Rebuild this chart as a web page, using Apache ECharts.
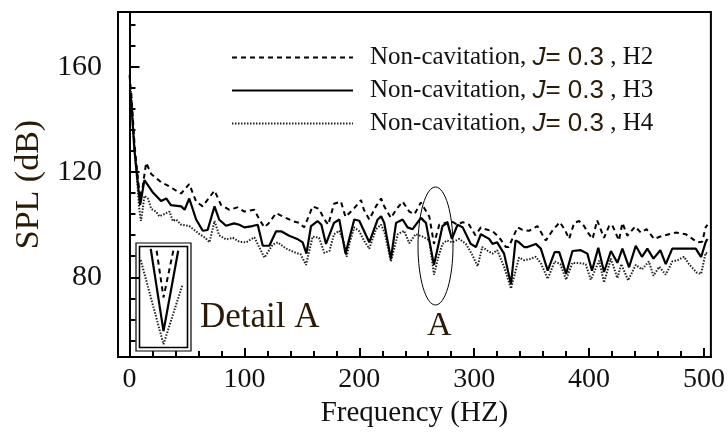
<!DOCTYPE html>
<html>
<head>
<meta charset="utf-8">
<script src="https://cdn.jsdelivr.net/npm/echarts@6/dist/echarts.min.js"></script>
<style>
html,body{margin:0;padding:0;background:#fff;}
#c{width:728px;height:433px;}
</style>
</head>
<body>
<div id="c"></div>
<script>
// ---- data ----
const h2Freq = [0,1.5,3,4.5,6,8,10,14.5,18.9,27.5,33,40.6,45,52,58,63.7,74,79.7,87,94,100,108.7,113,117.4,121,127.6,136,142,147.8,152,156.5,159.4,165,169.6,173,178,184,188,195.6,201.5,204,208.7,214.5,219,221.7,227.5,232,237.7,243.5,248,253.6,261,265,269.6,279.7,285.5,290,295.6,301,305.8,310,316,321.7,327.6,330,337.7,342,347.8,355,362.3,368,374.5,379,382.6,387,391.3,395.6,399,403,407,413,417.4,420,426,429,433.3,440,445,450,456.5,462,469.6,475.4,484,490,494,498.5,501.4,503];
const h2Spl  = [157,150,140,130,123,115,110,123.6,119.3,116.2,115,113,111.9,115.5,108.8,107,113,107.5,105.7,106.6,105,105.7,102,99,100.5,104.4,102.6,101.4,100.7,99,103.8,107,106,102,100,108,108.8,103,106.3,109.4,105.7,102,107,110,107,102.6,105.7,108.8,105,104,108.5,103,92.7,100,101.4,100,101,100,96,99,98.3,97.5,95.2,91.5,91.5,99,98,97.7,99.5,94,97.7,101,98,94.6,100.7,101.4,99.5,97,94.6,101.7,95,99.5,100,94,100.7,95.8,99.3,97,98.3,94.6,95.5,96.4,97,96.4,94.6,93.3,93.5,99,100];

const h3Freq = [1,2,3,4.3,5.8,7.2,9.3,13,20,27.5,32,36,45,48,52,58,63.8,68,74,78,84,91,95.6,100,107,111.6,116,121.7,127.6,132,139,146,150.7,154,158,163.7,167,171,178,182.6,188,195.6,200,208.7,216,219,221.7,227.5,232,237.7,242,246.4,248,253.6,258,265,272.4,276.8,280.6,285.5,290,297,301.5,305.8,313,316,320,326,332,336,339,343.5,346.4,353.6,358,364,370,374,380,385.5,392.8,398.5,402.5,408,413,419,424.6,429,434.8,440.6,446,450.7,456,462,466.7,472.4,492.8,497.5,501.4,503];
const h3Spl  = [149,144,137,128.5,122,116,107.5,117,112.5,109,110,107.5,107,105.7,110,102,97.7,98,107,102,99.6,100.5,100,99,99.5,100,92,92,97.5,97.5,95.8,94.6,93.3,89,99.5,101.4,100,92.7,100.7,102,89,102,101.5,93.3,102,103.2,100.7,87,100.7,102,99,98.3,97.7,102.6,100.7,84.7,99.5,100.7,94.6,100,99,92.7,91.5,96.4,94.6,92.7,93.3,89,77.3,94,93.3,91.5,91.5,92.7,90.9,82.5,89.6,89.6,81.3,90,90.3,89,82.5,91.2,82,90,85.5,90.9,83.8,92,87.8,90.9,87.1,90.3,85,90.9,90.9,87.7,93.3,94.6];

const h4Freq = [1,2,3,4.3,5.8,7.2,8.5,10,11.5,13,16,19,23,26,30,34.8,37.7,40.6,45,52,53.6,61,66,69.6,74,78,84,90,95.6,101.5,108.7,117.4,124.6,129,136,143,149,153.6,159.4,165,169.6,174,178,182.6,186,189,191.3,195.6,200,204,208.7,214.5,219,222,227.5,233.5,239,243.5,249,255,261,265,269,272.4,276,281,287,292.8,298.5,303,307,312,316,320,326,332,339,343.5,349,353.6,358,364,370,375,380,385.5,394,397,401.5,408.7,413,418.9,424.6,428,434,440.6,446,452,456,461,466.7,472.4,477,482.6,487,493.5,497.5,501.4,503];
const h4Spl  = [152,146,138,129,121,114,106,101.5,106,111,110,106,105,103.2,104,105,101.4,102,100,99.5,99,96.4,95,93.3,101.4,96,94.4,95,93.5,93.3,95.2,87.5,92.4,93.3,91,89.6,88.7,84.7,95.5,95,89.3,90,96.4,97.7,94,87.8,92.7,99,97.5,94,90.9,98.3,100,97,86,96.4,97.7,93,96.4,95.5,94,81,88,92.7,94,93.3,94.6,92.7,88.4,84.2,91.5,90,89,90.3,84,75.7,87.5,86.5,87,87.8,85.3,79.4,86,85,79.1,85.5,85.3,85,79.1,86.3,78,87.1,79.7,85,78.8,84.7,83,86,80.6,84,81,86,86.5,87.8,85,81.8,81.3,89.3,89];

// Detail A inset (magnified dip), normalised units
const detailSolidX  = [-0.52, 0, 0.6];
const detailSolidY  = [1.02, 0.14, 1.0];
const detailDashX   = [-0.28, 0, 0.4];
const detailDashY   = [1.0, 0.5, 1.0];
const detailDotX    = [-0.93, 0, 0.78];
const detailDotY    = [0.9, 0.0, 0.64];

// ticks
const xMajorTicks = [0,100,200,300,400,500];
const xMinorTicks = [20,40,60,80,120,140,160,180,220,240,260,280,320,340,360,380,420,440,460,480];
const yMajorTicks = [80,120,160];
const yMinorTicks = [56,64,72,88,96,104,112,128,136,144,152,168,176];

const seriesNames = ['H2','H3','H4'];

function pairs(xs, ys){ return xs.map((x,i)=>[x, ys[i]]); }

const serif = "'Liberation Serif','Times New Roman',serif";
const sans = "'Liberation Sans',Arial,sans-serif";
const ink = '#111';
const brown = '#2a1a08';

const chart = echarts.init(document.getElementById('c'), null, {renderer:'canvas'});

const option = {
  backgroundColor: '#fff',
  animation: false,
  grid: [
    {left:118, right:16, top:12, bottom:71, show:true, borderColor:'#000', borderWidth:2, backgroundColor:'transparent'},
    {left:139, top:247, width:49, height:100, show:false}
  ],
  legend: {
    data: seriesNames,
    orient: 'vertical',
    left: 226,
    top: 39,
    itemWidth: 121,
    itemHeight: 14,
    itemGap: 6,
    itemStyle: {opacity: 0, borderWidth: 0},
    formatter: function(name){ return '{a|Non-cavitation, }{j|J}{s|= 0.3}{a| , ' + name + '}'; },
    textStyle: {
      color: ink, fontFamily: serif, fontSize: 25, lineHeight: 27, padding:[0,0,0,12],
      rich: {
        a: {color: ink, fontFamily: serif, fontSize: 25, lineHeight: 27},
        j: {color: brown, fontFamily: sans, fontStyle: 'italic', fontSize: 26, lineHeight: 27},
        s: {color: brown, fontFamily: sans, fontSize: 26, lineHeight: 27}
      }
    }
  },
  xAxis: [
    {
      type:'value', gridIndex:0, min:-10, max:506,
      name:'Frequency (HZ)', nameLocation:'middle', nameGap:33,
      nameTextStyle:{fontFamily:serif, fontSize:29, color:ink},
      axisLine:{show:true, lineStyle:{color:'#000', width:2}},
      axisTick:{show:true, inside:true, length:6, customValues:xMinorTicks, lineStyle:{color:'#000', width:2}},
      axisLabel:{show:true, customValues:xMajorTicks, margin:9, fontFamily:serif, fontSize:28, color:ink},
      splitLine:{show:false}
    },
    {
      type:'value', gridIndex:0, min:-10, max:506, position:'bottom',
      axisLine:{show:false},
      axisTick:{show:true, inside:true, length:9, customValues:xMajorTicks, lineStyle:{color:'#000', width:2}},
      axisLabel:{show:false},
      splitLine:{show:false}
    },
    {type:'value', gridIndex:1, min:-1, max:1, show:false}
  ],
  yAxis: [
    {
      type:'value', gridIndex:0, min:49.6, max:181,
      name:'SPL (dB)', nameLocation:'middle', nameGap:70, nameRotate:90,
      nameTextStyle:{fontFamily:serif, fontSize:34, color:brown},
      axisLine:{show:true, lineStyle:{color:'#000', width:2}},
      axisTick:{show:true, inside:true, length:6, customValues:yMinorTicks, lineStyle:{color:'#000', width:2}},
      axisLabel:{show:true, customValues:yMajorTicks, margin:16, fontFamily:serif, fontSize:30, color:ink},
      splitLine:{show:false}
    },
    {
      type:'value', gridIndex:0, min:49.6, max:181, position:'left',
      axisLine:{show:false},
      axisTick:{show:true, inside:true, length:10, customValues:yMajorTicks, lineStyle:{color:'#000', width:2}},
      axisLabel:{show:false},
      splitLine:{show:false}
    },
    {type:'value', gridIndex:1, min:-0.03, max:1.04, show:false}
  ],
  series: [
    {name:'H2', type:'line', xAxisIndex:0, yAxisIndex:0, data:pairs(h2Freq,h2Spl), symbol:'none', showSymbol:false,
      lineStyle:{color:'#000', width:2, type:[5,4]}, itemStyle:{color:'#000'}, z:3},
    {name:'H3', type:'line', xAxisIndex:0, yAxisIndex:0, data:pairs(h3Freq,h3Spl), symbol:'none', showSymbol:false,
      lineStyle:{color:'#000', width:2.2, type:'solid'}, itemStyle:{color:'#000'}, z:4},
    {name:'H4', type:'line', xAxisIndex:0, yAxisIndex:0, data:pairs(h4Freq,h4Spl), symbol:'none', showSymbol:false,
      lineStyle:{color:'#222', width:2, type:[1.5,1.5]}, itemStyle:{color:'#222'}, z:2},
    {name:'detail H2', type:'line', xAxisIndex:2, yAxisIndex:2, data:pairs(detailDashX,detailDashY), symbol:'none',
      lineStyle:{color:'#000', width:2, type:[5,4]}, silent:true},
    {name:'detail H3', type:'line', xAxisIndex:2, yAxisIndex:2, data:pairs(detailSolidX,detailSolidY), symbol:'none',
      lineStyle:{color:'#000', width:2.2}, silent:true},
    {name:'detail H4', type:'line', xAxisIndex:2, yAxisIndex:2, data:pairs(detailDotX,detailDotY), symbol:'none',
      lineStyle:{color:'#222', width:2, type:[1.5,1.5]}, silent:true}
  ],
  graphic: [
    {type:'rect', shape:{x:136, y:243, width:55, height:108}, style:{fill:'none', stroke:'#000', lineWidth:1.2}, z:10},
    {type:'rect', shape:{x:139.5, y:246.5, width:48, height:101}, style:{fill:'none', stroke:'#000', lineWidth:1.6}, z:10},
    {type:'text', left:200, top:300, style:{text:'Detail A', font:"35px 'Liberation Serif','Times New Roman',serif", fill:brown}, z:10},
    {type:'ellipse', shape:{cx:435.5, cy:246, rx:17.5, ry:59}, style:{fill:'none', stroke:'#000', lineWidth:1}, z:10},
    {type:'text', left:427, top:309, style:{text:'A', font:"34px 'Liberation Serif','Times New Roman',serif", fill:brown}, z:10}
  ]
};
chart.setOption(option);
</script>
</body>
</html>
